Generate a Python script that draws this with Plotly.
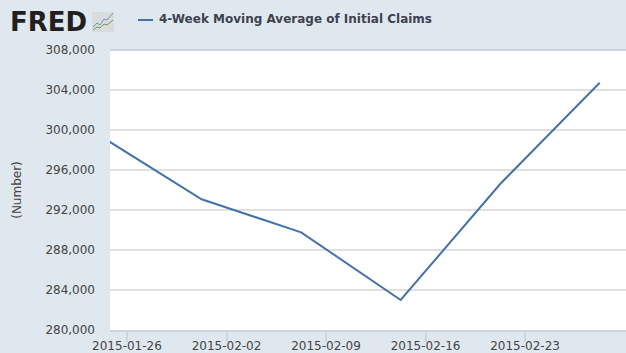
import plotly.graph_objects as go

series_name = "4-Week Moving Average of Initial Claims"
dates = ["2015-01-24T06:00", "2015-01-31T06:00", "2015-02-07T06:00",
         "2015-02-14T06:00", "2015-02-21T06:00", "2015-02-28T06:00"]
claims = [299300, 293070, 289770, 283000, 294600, 304730]
x_ticks = ["2015-01-26", "2015-02-02", "2015-02-09", "2015-02-16", "2015-02-23"]
y_ticks = [280000, 284000, 288000, 292000, 296000, 300000, 304000, 308000]

BG = "#e0e8ef"
W, H = 626, 353
L, T, PW, PH = 110, 50, 516, 280


def px(x):
    return (x - L) / PW


def py(y):
    return 1 + (T - y) / PH


def logo_path(points):
    return "M " + " L ".join(f"{px(a):.4f},{py(b):.4f}" for a, b in points)


fig = go.Figure(go.Scatter(x=dates, y=claims, mode="lines", name=series_name,
                           line=dict(color="#4572a7", width=2), showlegend=False))

fig.update_layout(
    width=W, height=H, paper_bgcolor=BG, plot_bgcolor="white",
    margin=dict(l=L, r=0, t=T, b=H - T - PH),
    font=dict(family="DejaVu Sans", size=12, color="#444444"),
    xaxis=dict(type="date", range=["2015-01-24T19:20", "2015-03-02T02:24"],
               tickmode="array", tickvals=x_ticks, ticktext=x_ticks,
               ticks="outside", ticklen=10, tickcolor="#ccd6e0", tickwidth=2,
               showgrid=False, showline=True, linecolor="#ccd6e0", linewidth=2,
               tickfont=dict(size=12, color="#444444"), ticklabelstandoff=-6,
               zeroline=False, automargin=False),
    yaxis=dict(range=[280000, 308000], tickmode="array", tickvals=y_ticks,
               ticktext=[f"{v:,}" for v in y_ticks], showgrid=True,
               gridcolor="#e0e0e0", gridwidth=2, zeroline=False,
               tickfont=dict(size=12, color="#444444"), ticklabelstandoff=14,
               title=dict(text="(Number)", font=dict(size=12, color="#444444"), standoff=21),
               automargin=False),
    annotations=[
        dict(xref="paper", yref="paper", x=px(8), y=py(22), xanchor="left", yanchor="middle",
             text="<b>FRED</b>", showarrow=False,
             font=dict(family="DejaVu Sans", size=26, color="#231f20")),
        dict(xref="paper", yref="paper", x=px(157), y=py(19), xanchor="left", yanchor="middle",
             text=f"<b>{series_name}</b>", showarrow=False,
             font=dict(family="DejaVu Sans", size=12, color="#3e4250")),
    ],
    shapes=[
        dict(type="line", xref="paper", yref="paper", x0=px(138), x1=px(153),
             y0=py(20), y1=py(20), line=dict(color="#4572a7", width=2)),
        dict(type="line", xref="paper", yref="paper", x0=0, x1=1, y0=1, y1=1,
             line=dict(color="#ccd6e0", width=2)),
        dict(type="rect", xref="paper", yref="paper", x0=px(92), x1=px(114),
             y0=py(32), y1=py(12), fillcolor="#d8dcdc", line=dict(width=0)),
        dict(type="path", xref="paper", yref="paper",
             path=logo_path([(93, 27), (97, 23), (100, 25), (104, 19), (107, 20), (113, 13)]),
             line=dict(color="#6f94c0", width=1)),
        dict(type="path", xref="paper", yref="paper",
             path=logo_path([(93, 30), (97, 27), (100, 28), (104, 24), (107, 25), (113, 20)]),
             line=dict(color="#6f9a50", width=1)),
    ],
)
fig.write_html("out.html", config=dict(displayModeBar=False),
               post_script="document.body.style.margin='0';document.body.style.overflow='hidden';")
